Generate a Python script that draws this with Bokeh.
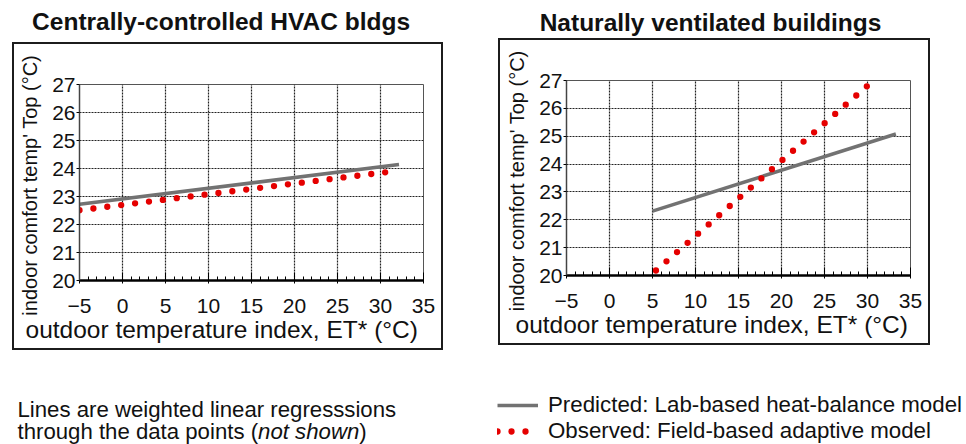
from bokeh.plotting import figure
from bokeh.models import Range1d, FixedTicker, Title, Legend, LegendItem
from bokeh.layouts import column, row
from bokeh.embed import file_html
from bokeh.resources import INLINE
from bokeh.core.properties import value

FONT = "Liberation Sans"
NAN = float("nan")

# ---------------- data ----------------
titles = ["Centrally-controlled  HVAC bldgs", "Naturally ventilated buildings"]
x_ticks = [-5, 0, 5, 10, 15, 20, 25, 30, 35]
x_minor_ticks = [-4, -3, -2, -1, 1, 2, 3, 4, 6, 7, 8, 9, 11, 12, 13, 14, 16, 17, 18, 19,
                 21, 22, 23, 24, 26, 27, 28, 29, 31, 32, 33, 34]
y_ticks = [20, 21, 22, 23, 24, 25, 26, 27]
x_title = "outdoor temperature index, ET* (°C)"
y_title = "indoor comfort  temp' Top (°C)"

# Centrally-controlled HVAC buildings
hvac_pred_x = [-5.0, 32.15]
hvac_pred_y = [22.72, 24.14]
hvac_obs_x = [-5.0, 32.0]
hvac_obs_y = [22.51, 23.92]

# Naturally ventilated buildings
nv_pred_x = [5.0, 33.3]
nv_pred_y = [22.31, 25.08]
nv_obs_x = [5.4, 30.1]
nv_obs_y = [20.18, 26.84]

legend_labels = ["Predicted: Lab-based heat-balance model",
                 "Observed: Field-based adaptive model"]
note_line1 = "Lines are weighted linear regresssions"
note_line2 = ["through the data points (", "not shown", ")"]

# ---------------- styles ----------------
PRED = dict(line_color="#727272", line_width=3.5)
OBS = dict(line_color="#e50000", line_width=6.3, line_dash="0 14", line_cap="round")
TXT = "#111111"


def blank_fig(w, h):
    f = figure(width=w, height=h, x_range=Range1d(0, w), y_range=Range1d(h, 0),
               output_backend="svg", toolbar_location=None, min_border=0,
               x_axis_location=None, y_axis_location=None)
    f.grid.visible = False
    f.outline_line_color = None
    return f


def panel(w, h, bl, br, bt, bb, margin, pred_x, pred_y, obs_x, obs_y, title_offset):
    p = figure(width=w, height=h, x_range=Range1d(-5, 35), y_range=Range1d(20, 27),
               output_backend="svg", toolbar_location=None,
               min_border_left=bl, min_border_right=br, min_border_top=bt,
               min_border_bottom=bb, margin=margin,
               styles={"border": "2px solid #1c1c1c"})
    p.background_fill_color = "white"
    p.border_fill_color = "white"
    p.outline_line_color = "#555555"
    p.outline_line_width = 1

    xa = p.xaxis[0]
    xa.ticker = FixedTicker(ticks=x_ticks, minor_ticks=x_minor_ticks)
    xa.major_label_text_font = FONT
    xa.major_label_text_font_size = "21px"
    xa.major_label_text_color = TXT
    xa.major_label_standoff = 15
    xa.major_tick_in = 8
    xa.major_tick_out = 3
    xa.minor_tick_in = 4
    xa.minor_tick_out = 0
    xa.major_tick_line_color = "black"
    xa.minor_tick_line_color = "black"
    xa.axis_line_color = "black"
    xa.axis_line_width = 2.5

    ya = p.yaxis[0]
    ya.ticker = FixedTicker(ticks=y_ticks, minor_ticks=[])
    ya.major_label_text_font = FONT
    ya.major_label_text_font_size = "21px"
    ya.major_label_text_color = TXT
    ya.major_label_standoff = 1
    ya.major_tick_in = 0
    ya.major_tick_out = 3
    ya.minor_tick_in = 0
    ya.minor_tick_out = 0
    ya.major_tick_line_color = "black"
    ya.axis_line_color = "#444444"
    ya.axis_line_width = 1.5
    ya.axis_label = y_title
    ya.axis_label_text_font = FONT
    ya.axis_label_text_font_size = "20px"
    ya.axis_label_text_font_style = "normal"
    ya.axis_label_text_color = TXT
    ya.axis_label_standoff = 8

    p.xgrid.ticker = FixedTicker(ticks=x_ticks)
    p.ygrid.ticker = FixedTicker(ticks=y_ticks)
    for g in (p.xgrid, p.ygrid):
        g.grid_line_color = "#222222"
        g.grid_line_dash = "2 1"
        g.grid_line_width = 1.2

    p.line(pred_x, pred_y, **PRED)
    p.line(obs_x, obs_y, **OBS)

    p.add_layout(Title(text=x_title, align="left", offset=title_offset, standoff=0,
                       vertical_align="top",
                       text_font=FONT, text_font_size="24.5px", text_font_style="normal",
                       text_color=TXT), "below")
    return p


# ---------------- titles strip ----------------
top = blank_fig(966, 38)
TT = dict(text_font=value(FONT), text_font_style="bold", text_font_size="24.5px",
          text_align="center", text_baseline="alphabetic", text_color=TXT)
top.text(x=[224], y=[21], text=[titles[0]], **TT)
top.text(x=[710], y=[22], text=[titles[1]], **TT)

# ---------------- panels ----------------
f1 = panel(431, 308, 65, 22, 39, 72, (4, 0, 0, 12),
           hvac_pred_x, hvac_pred_y, hvac_obs_x, hvac_obs_y, -54)
f2 = panel(432, 307, 66, 22, 40, 71, (0, 0, 0, 55),
           nv_pred_x, nv_pred_y, nv_obs_x, nv_obs_y, -51)

# ---------------- bottom note + legend ----------------
lg = blank_fig(966, 94)
NOTE = dict(text_font=value(FONT), text_font_size="22.2px", text_color=TXT,
            text_align="left", text_baseline="alphabetic")
lg.text(x=[17], y=[59], text=[note_line1], **NOTE)
lg.text(x=[17], y=[81], text=[note_line2[0]], **NOTE)
lg.text(x=[257.6], y=[81], text=[note_line2[1]], text_font_style="italic", **NOTE)
lg.text(x=[358.8], y=[81], text=[note_line2[2]], **NOTE)

r_pred = lg.line(x=[NAN, NAN], y=[NAN, NAN], **PRED)
r_obs = lg.line(x=[NAN, NAN], y=[NAN, NAN], **OBS)
legend = Legend(items=[LegendItem(label=legend_labels[0], renderers=[r_pred]),
                       LegendItem(label=legend_labels[1], renderers=[r_obs])],
                location=(497, 0), orientation="vertical",
                glyph_width=41, glyph_height=20, label_height=20, label_standoff=10,
                spacing=-2, padding=0, margin=0,
                border_line_color=None, background_fill_alpha=0,
                label_text_font=FONT, label_text_font_size="22.3px",
                label_text_color=TXT)
lg.add_layout(legend)

layout = column(top, row(f1, f2), lg)

open("out.html", "w").write(file_html(layout, INLINE))
